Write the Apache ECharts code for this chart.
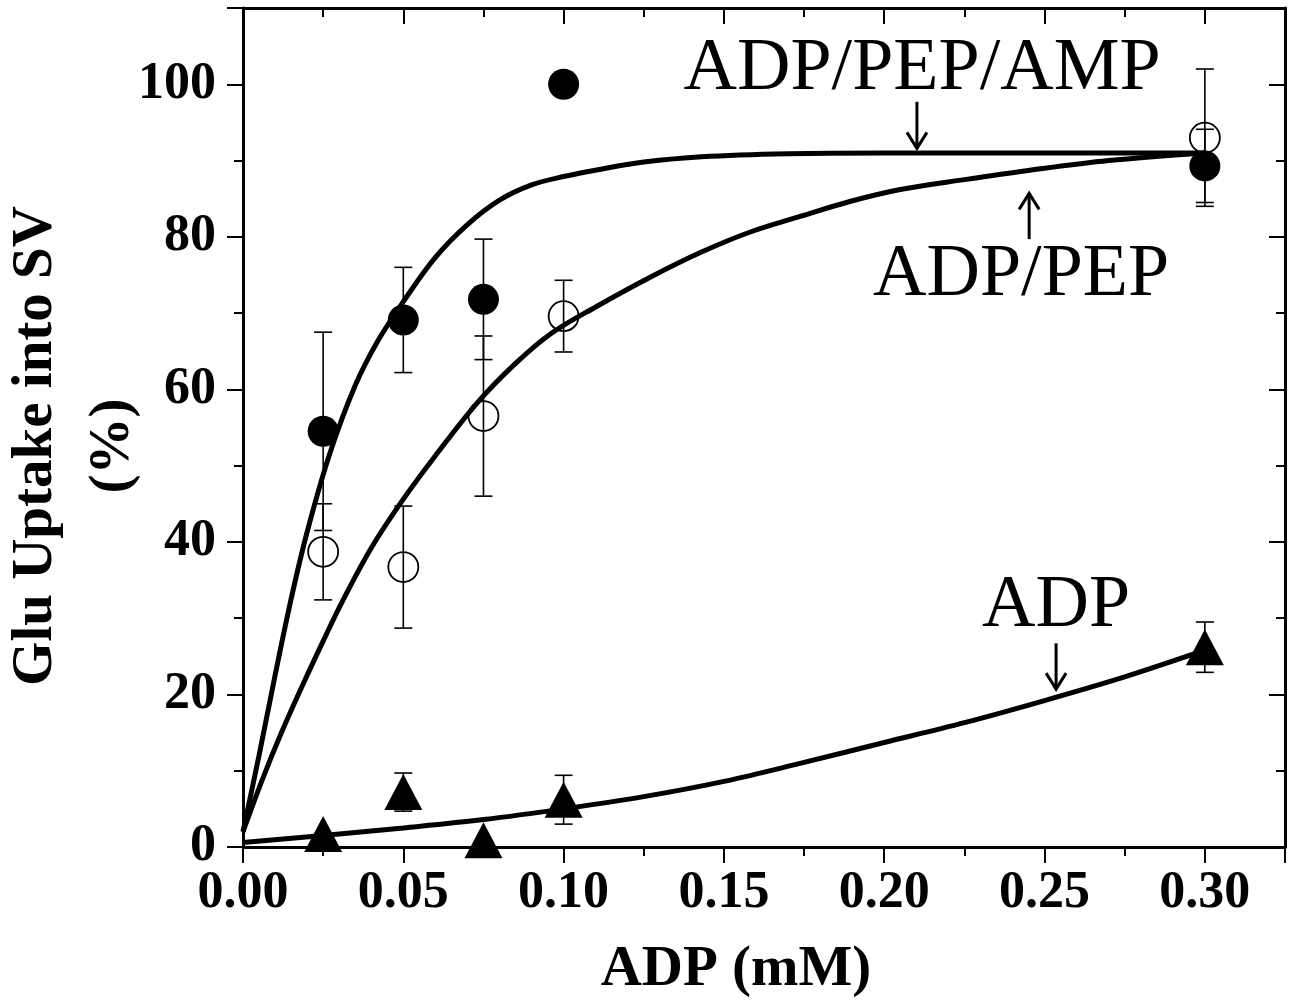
<!DOCTYPE html>
<html>
<head>
<meta charset="utf-8">
<script src="https://cdn.jsdelivr.net/npm/echarts@6/dist/echarts.min.js"></script>
<style>
  html, body { margin: 0; padding: 0; background: #fff; }
  #chart { width: 1290px; height: 1004px; }
</style>
</head>
<body>
<div id="chart"></div>
<script>
const FONT = '"Liberation Serif", "Times New Roman", serif'

// measured points (ADP concentration, mM)
const adpConc = [0.025, 0.05, 0.075, 0.1, 0.3]
const ampMean = [54.5, 69.1, 71.8, 100, 89.3] // ADP/PEP/AMP, filled circles
const ampErr = [13, 6.9, 7.9, 0, 4.8]
const pepMean = [38.7, 36.7, 56.5, 69.6, 93.0] // ADP/PEP, open circles
const pepErr = [6.3, 8, 10.5, 4.7, 9]
const adpMean = [1.7, 7.2, 0.9, 6.2, 26.2] // ADP, triangles
const adpErr = [0, 2.5, 0, 3.2, 3.3]

// fitted curves
const ampFitX = [0, 0.005, 0.01, 0.015, 0.02, 0.027, 0.035, 0.042, 0.05, 0.06, 0.07, 0.08, 0.09, 0.1, 0.112, 0.125, 0.143, 0.17, 0.2, 0.25, 0.3]
const ampFitY = [2, 12, 22.5, 32.5, 41.3, 51.5, 60.5, 66.3, 71.5, 77.3, 81.6, 84.8, 86.8, 87.9, 88.9, 89.8, 90.5, 90.9, 91, 91, 91]
const pepFitX = [0, 0.006, 0.012, 0.019, 0.025, 0.031, 0.04, 0.05, 0.06, 0.073, 0.085, 0.096, 0.11, 0.127, 0.143, 0.158, 0.174, 0.189, 0.205, 0.225, 0.245, 0.27, 0.3]
const pepFitY = [2, 8.8, 15, 21.6, 27, 32.2, 39.2, 45.6, 51.3, 58.2, 63.4, 67.3, 70.8, 74.7, 78, 80.6, 82.7, 84.6, 86.2, 87.5, 88.7, 90, 91]
const adpFitX = [0, 0.025, 0.05, 0.075, 0.1, 0.125, 0.15, 0.175, 0.2, 0.225, 0.25, 0.275, 0.3]
const adpFitY = [0.6, 1.5, 2.5, 3.6, 5.0, 6.6, 8.6, 11.1, 13.7, 16.3, 19.2, 22.3, 25.8]

// annotations, in data units
const labelText = ['ADP/PEP/AMP', 'ADP/PEP', 'ADP']
const labelPos = [[0.2118, 101.9], [0.2427, 74.9], [0.2536, 31.5]]
const arrowX = [0.2102, 0.2452, 0.2536]
const arrowTail = [97.7, 79.7, 26.7]
const arrowTip = [91.6, 85.7, 20.7]

const zip = (xs, ys, es) => xs.map((x, i) => (es ? [x, ys[i], es[i]] : [x, ys[i]]))

const errorBar = (params, api) => {
  const x = api.value(0)
  const y = api.value(1)
  const e = api.value(2)
  if (!e) {
    return null
  }
  const hi = api.coord([x, y + e])
  const lo = api.coord([x, y - e])
  const w = 9
  const style = { stroke: '#000', lineWidth: 1.6 }
  return {
    type: 'group',
    children: [
      { type: 'line', shape: { x1: hi[0], y1: hi[1], x2: lo[0], y2: lo[1] }, style },
      { type: 'line', shape: { x1: hi[0] - w, y1: hi[1], x2: hi[0] + w, y2: hi[1] }, style },
      { type: 'line', shape: { x1: lo[0] - w, y1: lo[1], x2: lo[0] + w, y2: lo[1] }, style },
    ],
  }
}

const xAxisOf = (position, interval, tickLen, inside, main) => ({
  type: 'value',
  position: position,
  min: 0,
  max: 0.325,
  interval: interval,
  splitLine: { show: false },
  axisLine: {
    show: main,
    onZero: false,
    lineStyle: { color: '#000', width: 3 },
  },
  axisTick: {
    show: true,
    inside: inside,
    length: tickLen,
    lineStyle: { color: '#000', width: 2 },
  },
  axisLabel: {
    show: main && position === 'bottom' && interval === 0.05,
    color: '#000',
    fontFamily: FONT,
    fontWeight: 'bold',
    fontSize: 52,
    margin: 21,
    formatter(v) {
      const k = v / 0.05
      if (Math.abs(k - Math.round(k)) > 1e-6) {
        return ''
      }
      return v.toFixed(2)
    },
  },
})

const yAxisOf = (position, interval, tickLen, inside, main) => ({
  type: 'value',
  position: position,
  min: 0,
  max: 110,
  interval: interval,
  splitLine: { show: false },
  axisLine: {
    show: main,
    onZero: false,
    lineStyle: { color: '#000', width: 3 },
  },
  axisTick: {
    show: true,
    inside: inside,
    length: tickLen,
    lineStyle: { color: '#000', width: 2 },
  },
  axisLabel: {
    show: main && position === 'left' && interval === 20,
    color: '#000',
    fontFamily: FONT,
    fontWeight: 'bold',
    fontSize: 52,
    margin: 27,
    formatter(v) {
      return v % 20 === 0 && v <= 100 ? String(v) : ''
    },
  },
})

const fitLine = (xs, ys) => ({
  type: 'line',
  data: zip(xs, ys),
  smooth: 0.35,
  showSymbol: false,
  lineStyle: { color: '#000', width: 5 },
  z: 3,
})

const chart = echarts.init(document.getElementById('chart'))

const xMain = xAxisOf('bottom', 0.05, 16, false, true)
xMain.name = 'ADP (mM)'
xMain.nameLocation = 'middle'
xMain.nameGap = 95
xMain.nameTextStyle = {
  color: '#000',
  fontFamily: FONT,
  fontWeight: 'bold',
  fontSize: 57,
  padding: [0, 56, 0, 0],
}

const option = {
  backgroundColor: '#fff',
  animation: false,
  grid: {
    left: 243,
    right: 5,
    top: 8,
    bottom: 157,
  },
  xAxis: [
    xMain,
    xAxisOf('bottom', 0.025, 9, false, false),
    xAxisOf('top', 0.05, 16, true, true),
    xAxisOf('top', 0.025, 9, true, false),
  ],
  yAxis: [
    yAxisOf('left', 20, 16, false, true),
    yAxisOf('left', 10, 9, false, false),
    yAxisOf('right', 20, 16, true, true),
    yAxisOf('right', 10, 9, true, false),
  ],
  series: [
    { type: 'custom', renderItem: errorBar, data: zip(adpConc, ampMean, ampErr), z: 2 },
    { type: 'custom', renderItem: errorBar, data: zip(adpConc, pepMean, pepErr), z: 2 },
    { type: 'custom', renderItem: errorBar, data: zip(adpConc, adpMean, adpErr), z: 2 },
    fitLine(ampFitX, ampFitY),
    fitLine(pepFitX, pepFitY),
    fitLine(adpFitX, adpFitY),
    {
      type: 'scatter',
      symbol: 'circle',
      symbolSize: 31,
      itemStyle: { color: '#000', opacity: 1 },
      data: zip(adpConc, ampMean),
      z: 4,
    },
    {
      type: 'scatter',
      symbol: 'circle',
      symbolSize: 30,
      itemStyle: { color: 'rgba(0,0,0,0)', borderColor: '#000', borderWidth: 1.8, opacity: 1 },
      data: zip(adpConc, pepMean),
      z: 4,
    },
    {
      type: 'scatter',
      symbol: 'triangle',
      symbolSize: [38, 36],
      itemStyle: { color: '#000', opacity: 1 },
      data: zip(adpConc, adpMean),
      z: 4,
    },
  ],
}

chart.setOption(option)

// y axis title (two lines) and the curve annotations
const graphic = [
  {
    type: 'text',
    x: 36,
    y: 446,
    rotation: Math.PI / 2,
    style: {
      text: 'Glu Uptake into SV',
      fill: '#000',
      font: 'bold 57px ' + FONT,
      align: 'center',
      verticalAlign: 'middle',
      textAlign: 'center',
      textVerticalAlign: 'middle',
    },
  },
  {
    type: 'text',
    x: 113,
    y: 446,
    rotation: Math.PI / 2,
    style: {
      text: '(%)',
      fill: '#000',
      font: 'bold 57px ' + FONT,
      align: 'center',
      verticalAlign: 'middle',
      textAlign: 'center',
      textVerticalAlign: 'middle',
    },
  },
]
const toPx = (p) => chart.convertToPixel({ xAxisIndex: 0, yAxisIndex: 0 }, p)
labelText.forEach((t, i) => {
  const p = toPx(labelPos[i])
  graphic.push({
    type: 'text',
    x: p[0],
    y: p[1],
    style: {
      text: t,
      fill: '#000',
      font: '74px ' + FONT,
      align: 'center',
      verticalAlign: 'middle',
      textAlign: 'center',
      textVerticalAlign: 'middle',
    },
  })
})
arrowX.forEach((x, i) => {
  const a = toPx([x, arrowTail[i]])
  const b = toPx([x, arrowTip[i]])
  const dir = b[1] > a[1] ? 1 : -1
  const style = { stroke: '#000', lineWidth: 3, fill: null }
  graphic.push({
    type: 'group',
    children: [
      { type: 'line', shape: { x1: a[0], y1: a[1], x2: b[0], y2: b[1] }, style },
      {
        type: 'polyline',
        shape: {
          points: [
            [b[0] - 10, b[1] - dir * 16],
            [b[0], b[1]],
            [b[0] + 10, b[1] - dir * 16],
          ],
        },
        style,
      },
    ],
  })
})
chart.setOption({ graphic: graphic })
</script>
</body>
</html>
